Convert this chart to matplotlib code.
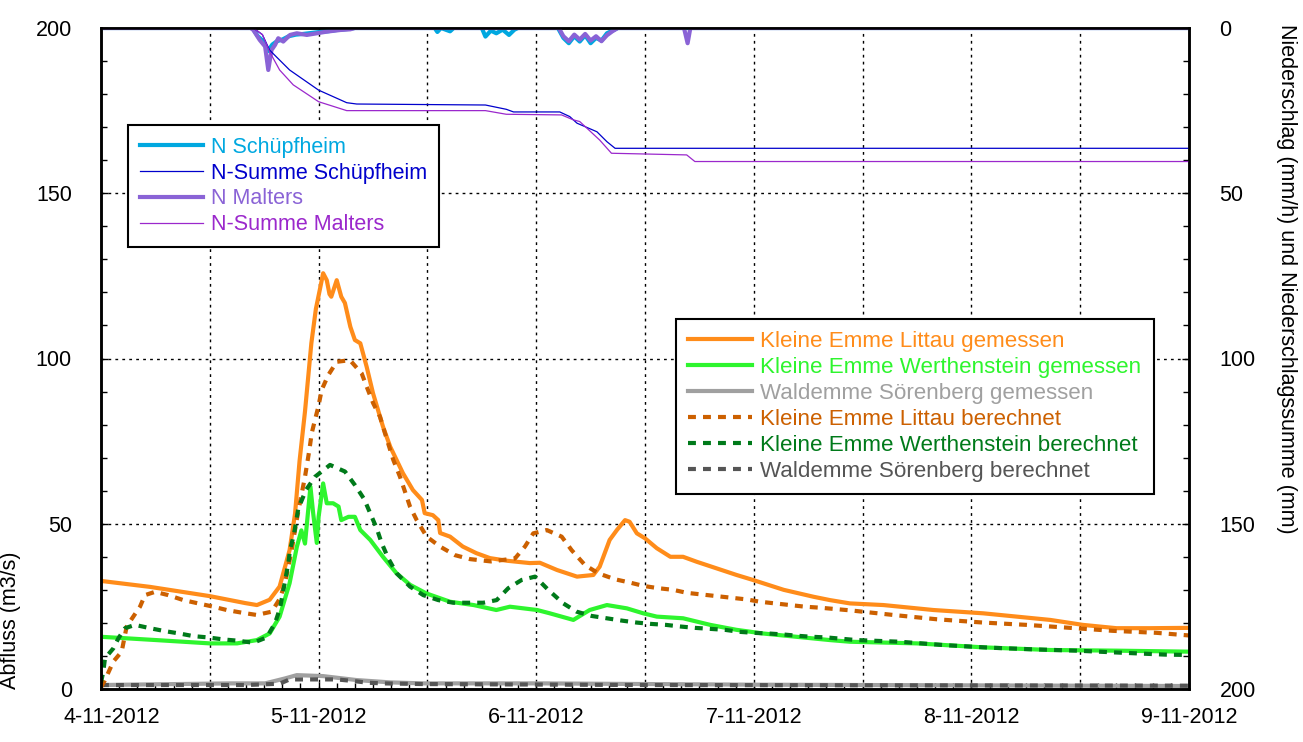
import matplotlib
matplotlib.use("Agg")
import matplotlib.pyplot as plt
import matplotlib.transforms as mtransforms
from matplotlib.ticker import MultipleLocator, FixedLocator

plt.rcParams['font.family'] = ['Liberation Sans', 'DejaVu Sans']
FS = 15.5

# ---------------- data (hours since 4-11-2012 00:00) ----------------
x_tick_hours = [0, 24, 48, 72, 96, 120]
x_tick_labels = ['4-11-2012', '5-11-2012', '6-11-2012', '7-11-2012', '8-11-2012', '9-11-2012']

littau_gem_h = [0, 5.4, 12.0, 15.9, 17.2, 18.6, 19.7, 20.8, 21.4, 21.9, 22.5, 23.2, 23.7, 24.2, 24.5,
                24.9, 25.2, 25.4, 26.0, 26.5, 26.9, 27.5, 28.0, 28.6, 29.3, 30.0, 31.1, 31.9, 32.6,
                33.3, 34.4, 35.4, 35.7, 36.6, 37.2, 37.4, 38.5, 39.9, 41.4, 42.9, 44.8, 47.3, 48.4,
                50.3, 52.5, 54.3, 55.0, 56.1, 56.9, 57.8, 58.3, 59.1, 60.0, 61.3, 62.8, 64.2, 65.7,
                67.9, 70.1, 71.9, 75.3, 78.6, 80.4, 82.6, 86.3, 91.8, 97.3, 104.7, 108.3, 112.0, 115.7, 120]
littau_gem_v = [32.7, 30.9, 28.1, 26.0, 25.4, 27.0, 31.0, 42.0, 53.0, 69.0, 84.0, 104.6, 115.0, 121.7, 125.8,
                123.7, 119.5, 118.7, 123.7, 118.7, 116.8, 109.6, 105.6, 104.6, 97.5, 89.5, 79.4, 73.3, 69.3,
                65.3, 60.2, 57.2, 53.2, 52.6, 51.1, 47.2, 46.1, 43.1, 41.1, 39.6, 38.8, 38.1, 38.2,
                36.0, 34.0, 34.5, 37.0, 45.1, 48.1, 51.1, 50.6, 47.1, 45.6, 42.6, 40.0, 40.0, 38.5,
                36.5, 34.5, 33.0, 30.0, 27.9, 26.9, 25.9, 25.4, 23.9, 22.9, 20.9, 19.4, 18.4, 18.4, 18.5]

werth_gem_h = [0, 6.1, 12.0, 15.0, 17.2, 18.6, 19.7, 20.8, 21.6, 22.1, 22.5, 23.1, 23.4, 23.8, 24.0,
               24.5, 24.9, 25.6, 26.2, 26.5, 27.3, 28.0, 28.6, 29.7, 31.1, 32.6, 34.1, 35.9, 38.5,
               41.1, 43.6, 45.1, 48.1, 49.5, 52.1, 53.9, 55.8, 58.0, 59.8, 61.3, 64.2, 67.2, 70.1,
               73.0, 76.7, 80.4, 82.6, 90.0, 97.3, 104.7, 112.0, 120]
werth_gem_v = [15.8, 14.8, 13.8, 13.8, 14.8, 16.8, 21.9, 32.0, 43.0, 48.0, 44.0, 61.2, 53.2, 44.2, 52.1,
               62.2, 56.2, 56.2, 55.2, 51.1, 52.1, 52.1, 48.1, 45.1, 40.0, 35.0, 31.5, 28.9, 26.4,
               25.4, 23.9, 24.9, 23.9, 22.9, 20.9, 23.9, 25.4, 24.4, 22.9, 21.9, 21.4, 19.4, 17.9,
               16.8, 15.8, 14.8, 14.3, 13.8, 12.6, 11.8, 11.6, 11.3]

soer_gem_h = [0, 14.3, 18.1, 20.3, 21.6, 24.5, 28.2, 31.9, 35.5, 48.4, 72, 120]
soer_gem_v = [1.2, 1.7, 1.7, 3.2, 4.2, 3.9, 2.7, 2.0, 1.7, 1.7, 1.3, 0.9]

littau_ber_h = [0, 0.4, 1.36, 2.28, 2.83, 3.56, 4.30, 4.85, 5.96, 7.42, 9.08, 10.73, 12.39, 13.86, 15.52,
                17.17, 18.83, 19.74, 20.29, 20.66, 21.03, 21.58, 22.14, 22.50, 22.98, 23.24, 23.60, 23.97,
                24.34, 25.07, 26.00, 27.46, 28.75, 29.30, 30.03, 30.77, 31.32, 32.24, 32.98, 34.08, 34.82,
                35.92, 37.39, 39.04, 40.70, 43.0, 45.66, 46.76, 47.68, 49.16, 50.81, 51.91, 53.38, 54.85,
                56.69, 58.34, 59.81, 61.46, 63.12, 64.60, 66.25, 67.91, 69.56, 71.22, 72.68, 74.34, 75.99,
                77.65, 79.30, 80.95, 82.61, 87.38, 92.17, 97.31, 102.1, 106.9, 111.6, 116.4, 120]
littau_ber_v = [0.5, 2.5, 8.3, 11.3, 18.9, 21.9, 24.9, 28.4, 29.4, 28.4, 26.9, 25.9, 24.9, 23.9, 23.1,
                22.4, 23.4, 27.4, 32.0, 37.0, 42.0, 51.1, 59.2, 64.2, 72.3, 77.4, 81.4, 85.4,
                90.5, 95.0, 99.0, 99.5, 95.5, 91.5, 86.4, 82.4, 77.4, 69.3, 64.2, 55.2, 51.1,
                46.1, 43.1, 40.5, 39.3, 38.6, 39.5, 43.1, 47.1, 48.1, 46.1, 42.0, 37.5, 35.0,
                33.2, 32.2, 31.2, 30.5, 30.0, 29.1, 28.6, 28.1, 27.6, 27.1, 26.4, 25.9, 25.4,
                24.9, 24.6, 24.2, 23.8, 22.4, 21.1, 20.1, 19.4, 18.5, 17.6, 17.0, 16.2]

werth_ber_h = [0, 0.25, 0.44, 1.36, 1.91, 2.65, 3.75, 5.40, 7.06, 8.64, 10.18, 11.83, 13.49, 15.14, 16.80,
               18.27, 19.19, 19.74, 20.66, 20.84, 21.29, 21.76, 22.61, 23.60, 25.26, 26.91, 28.01, 29.04,
               29.78, 30.41, 30.96, 31.69, 32.61, 34.08, 35.55, 37.20, 38.86, 40.51, 42.16, 43.64, 44.92,
               46.40, 47.87, 49.33, 50.99, 52.46, 54.12, 55.77, 57.43, 59.08, 60.63, 62.31, 63.94, 65.51,
               67.17, 68.82, 70.40, 71.94, 73.60, 75.25, 76.84, 78.38, 80.04, 81.69, 83.35, 88.12, 92.90,
               98.05, 102.8, 107.6, 112.4, 117.4, 120]
werth_ber_v = [2.0, 5.2, 9.3, 12.3, 15.3, 18.4, 19.4, 18.4, 17.5, 16.8, 16.0, 15.6, 15.0, 14.6, 14.0,
               15.6, 19.9, 24.4, 38.0, 42.0, 46.9, 54.6, 60.2, 64.2, 67.8, 65.8, 61.7, 57.4,
               52.6, 48.6, 44.1, 39.5, 35.0, 31.0, 28.4, 26.9, 26.1, 26.1, 26.1, 26.9, 30.5,
               33.0, 34.0, 30.0, 25.9, 23.4, 22.1, 21.4, 20.7, 20.1, 19.7, 19.4, 18.9, 18.5,
               18.2, 17.9, 17.3, 17.0, 16.8, 16.5, 16.1, 15.8, 15.6, 15.2, 14.8, 14.3, 13.3,
               12.5, 12.0, 11.6, 11.0, 10.4, 10.3]

soer_ber_h = [0, 16, 19.7, 20.8, 24.0, 26.0, 27.9, 29.4, 31.1, 35.5, 60, 120]
soer_ber_v = [1.2, 1.2, 1.6, 2.9, 2.9, 2.9, 2.4, 1.9, 1.7, 1.5, 1.2, 1.0]

# precipitation (mm/h) and cumulated precipitation (mm)
n_sch_h = [0, 16.7, 17.3, 17.9, 18.4, 18.9, 19.4, 20.0, 20.7, 21.5, 22.3, 23.2, 24.1, 25.0, 26.0, 27.2,
           28.0, 36.8, 37.1, 37.5, 38.5, 38.9, 42.0, 42.4, 43.0, 43.6, 44.3, 45.0, 45.6, 46.0, 50.4, 51.0,
           51.6, 52.2, 52.8, 53.4, 54.0, 54.6, 55.2, 55.8, 56.4, 57.0, 120]
n_sch_v = [0, 0, 2.5, 4.0, 7.0, 5.0, 4.0, 3.5, 2.5, 2.0, 1.8, 1.5, 1.2, 1.0, 0.6, 0.3,
           0, 0, 1.2, 0, 1.0, 0, 0, 2.6, 0.8, 1.6, 0.5, 2.1, 0.5, 0, 0, 3.0,
           4.6, 2.5, 4.1, 2.2, 4.6, 3.0, 3.8, 1.6, 0.8, 0, 0]

nsum_sch_h = [0, 16.8, 17.8, 18.6, 20.8, 24.0, 27.1, 28.2, 42.4, 44.7, 45.5, 50.6, 51.7, 52.5, 54.7,
              55.8, 56.7, 120]
nsum_sch_v = [0, 0, 2.0, 6.7, 12.7, 18.8, 22.6, 23.0, 23.3, 24.6, 25.4, 25.4, 26.8, 28.8, 31.4,
              34.4, 36.4, 36.4]

n_mal_h = [0, 16.5, 16.8, 17.5, 18.1, 18.45, 18.8, 19.2, 19.55, 20.1, 20.85, 21.6, 22.7, 23.8, 24.9,
           26.4, 27.5, 28.0, 50.5, 51.0, 51.6, 52.2, 52.8, 53.4, 54.0, 54.6, 55.2, 55.8, 56.4, 57.0,
           64.3, 64.7, 65.0, 120]
n_mal_v = [0, 0, 0.6, 3.6, 5.6, 12.7, 6.7, 5.1, 3.1, 4.1, 2.1, 1.6, 2.1, 1.6, 1.1,
           0.6, 0.4, 0, 0, 2.5, 4.0, 2.0, 3.5, 1.8, 3.8, 2.5, 4.0, 2.2, 1.0, 0,
           0, 4.6, 0, 0]

nsum_mal_h = [0, 16.8, 17.8, 18.6, 19.7, 21.2, 24.0, 27.1, 42.4, 44.7, 50.8, 52.1, 52.8, 55.0, 56.3,
              64.6, 65.5, 120]
nsum_mal_v = [0, 0, 2.0, 7.2, 12.7, 17.2, 22.3, 25.0, 25.0, 26.1, 26.3, 27.8, 28.3, 33.9, 37.9,
              38.4, 40.4, 40.4]

# ---------------- figure ----------------
fig = plt.figure(figsize=(13.03, 7.42), dpi=100)
ax = fig.add_axes([101 / 1303, 53 / 742, 1088 / 1303, 661 / 742])
ax2 = ax.twinx()

DASH = (1.9, 1.7)
LW = 3.0

c_lit_g = '#FF8C1A'
c_wer_g = '#2EF52E'
c_soe_g = '#A0A0A0'
c_lit_b = '#CC6000'
c_wer_b = '#007A1A'
c_soe_b = '#555555'

ax.plot(soer_gem_h, soer_gem_v, color=c_soe_g, lw=LW, label='Waldemme Sörenberg gemessen', zorder=3)
ax.plot(soer_ber_h, soer_ber_v, color=c_soe_b, lw=LW, dashes=DASH, label='Waldemme Sörenberg berechnet', zorder=4)
ax.plot(werth_gem_h, werth_gem_v, color=c_wer_g, lw=LW, label='Kleine Emme Werthenstein gemessen', zorder=3)
ax.plot(littau_gem_h, littau_gem_v, color=c_lit_g, lw=LW, label='Kleine Emme Littau gemessen', zorder=3)
ax.plot(littau_ber_h, littau_ber_v, color=c_lit_b, lw=LW, dashes=DASH, label='Kleine Emme Littau berechnet', zorder=4)
ax.plot(werth_ber_h, werth_ber_v, color=c_wer_b, lw=LW, dashes=DASH, label='Kleine Emme Werthenstein berechnet', zorder=4)

ax.set_xlim(0, 120)
ax.set_ylim(0, 200)
ax.xaxis.set_major_locator(FixedLocator(x_tick_hours))
ax.set_xticklabels(x_tick_labels)
ax.xaxis.set_minor_locator(MultipleLocator(2))
ax.yaxis.set_major_locator(MultipleLocator(50))
ax.yaxis.set_minor_locator(MultipleLocator(10))

# grid: every 12 h vertically, every 50 horizontally
for gx in range(12, 120, 12):
    ax.axvline(gx, color='black', lw=1.0, ls=(0, (2, 3)), zorder=1)
for gy in (50, 100, 150):
    ax.axhline(gy, color='black', lw=1.0, ls=(0, (2, 3)), zorder=1)

ax.tick_params(axis='both', which='both', direction='in', labelsize=FS, colors='black')
ax.tick_params(axis='y', which='major', length=5, width=1, pad=21)
ax.tick_params(axis='y', which='minor', length=4, width=1)
ax.tick_params(axis='x', which='major', length=5, width=1, pad=13)
ax.tick_params(axis='x', which='minor', length=4, width=1)

ax.set_ylabel('Abfluss (m3/s)', fontsize=FS)
ax.yaxis.set_label_coords(-0.0735, 0.104)

# precipitation axis
ax2.plot(n_sch_h, n_sch_v, color='#00A8E0', lw=LW, label='N Schüpfheim', zorder=2)
ax2.plot(nsum_sch_h, nsum_sch_v, color='#0000CC', lw=0.9, label='N-Summe Schüpfheim', zorder=3)
ax2.plot(n_mal_h, n_mal_v, color='#8A63D6', lw=LW, label='N Malters', zorder=2)
ax2.plot(nsum_mal_h, nsum_mal_v, color='#9B28CC', lw=0.9, label='N-Summe Malters', zorder=3)
ax2.set_ylim(200, 0)
ax2.yaxis.set_major_locator(MultipleLocator(50))
ax2.yaxis.set_minor_locator(MultipleLocator(10))
ax2.tick_params(axis='y', which='both', direction='in', labelsize=FS)
ax2.tick_params(axis='y', which='major', length=5, width=1, pad=22)
ax2.tick_params(axis='y', which='minor', length=4, width=1)
ax2.set_ylabel('Niederschlag (mm/h) und Niederschlagssumme (mm)', fontsize=FS, rotation=270,
               va='center', ha='center')
ax2.yaxis.set_label_coords(1.09, 0.62)

for a in (ax, ax2):
    for s in a.spines.values():
        s.set_linewidth(1.8)
        s.set_color('black')
        s.set_zorder(5)

leg_kw = dict(loc='upper left', frameon=True, fancybox=False, framealpha=1,
              edgecolor='black', borderpad=0.55, borderaxespad=0,
              handletextpad=0.37, labelspacing=0.22, labelcolor='linecolor')

leg1 = ax2.legend(bbox_to_anchor=(128 / 1303, 1 - 125 / 742), bbox_transform=fig.transFigure,
                  fontsize=FS, handlelength=2.95, **leg_kw)
leg1.get_frame().set_linewidth(1.5)

h, l = ax.get_legend_handles_labels()
order = ['Kleine Emme Littau gemessen', 'Kleine Emme Werthenstein gemessen', 'Waldemme Sörenberg gemessen',
         'Kleine Emme Littau berechnet', 'Kleine Emme Werthenstein berechnet', 'Waldemme Sörenberg berechnet']
hd = dict(zip(l, h))
leg2 = ax.legend([hd[k] for k in order], order, bbox_to_anchor=(676 / 1303, 1 - 319 / 742),
                 bbox_transform=fig.transFigure, fontsize=16.1, handlelength=2.85, **leg_kw)
leg2.get_frame().set_linewidth(1.5)
leg2.set_zorder(10)

# shift first date label slightly right like reference
lbl = ax.xaxis.get_major_ticks()[0].label1
lbl.set_transform(lbl.get_transform() + mtransforms.ScaledTranslation(11 / 100, 0, fig.dpi_scale_trans))

fig.savefig('out.png', dpi=100)
